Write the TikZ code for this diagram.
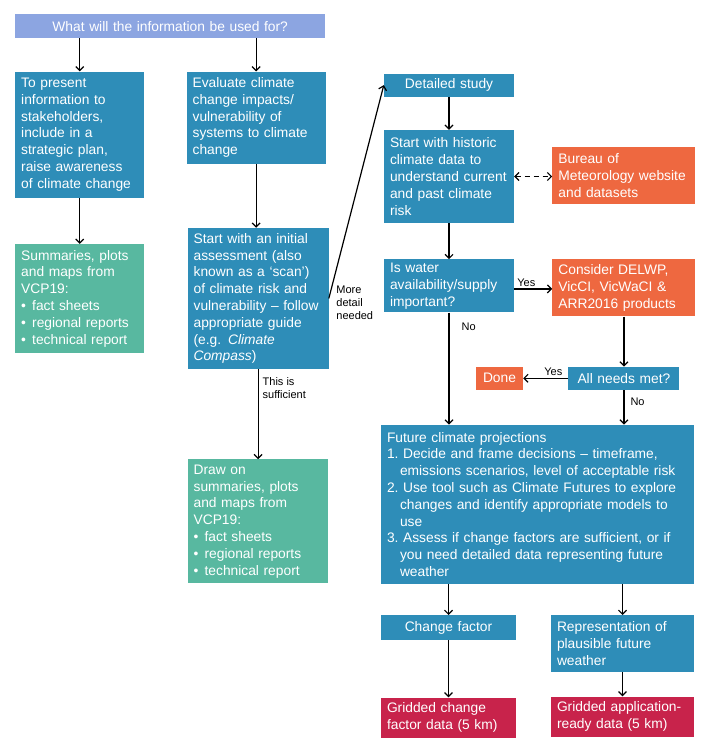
\documentclass[tikz,border=0pt]{standalone}
\usepackage{fontspec}
\setmainfont{Liberation Sans}
\usetikzlibrary{positioning, arrows.meta}

\definecolor{topblue}{RGB}{140,165,225}
\definecolor{vblue}{RGB}{46,141,184}
\definecolor{vgreen}{RGB}{88,184,160}
\definecolor{vorange}{RGB}{238,104,64}
\definecolor{vred}{RGB}{200,35,75}

\hyphenpenalty=10000
\exhyphenpenalty=10000
\newcommand{\bul}{\makebox[11pt][l]{\textbullet}}

\begin{document}
\begin{tikzpicture}[x=1pt, y=-1pt,
            block/.style={rectangle, fill=vblue, text=white, align=left, anchor=north west, inner xsep=6pt, inner ysep=2pt, font=\fontsize{13.8}{16.8}\selectfont},
            summary/.style={block, fill=vgreen},
            source/.style={block, fill=vorange},
            product/.style={block, fill=vred},
            arrow/.style={-{Straight Barb[length=4pt, width=8pt]}, line width=1.2pt},
            link/.style={arrow, {Straight Barb[length=4pt, width=8pt]}-{Straight Barb[length=4pt, width=8pt]}, dash pattern=on 5pt off 4pt},
            lbl/.style={font=\fontsize{11}{13}\selectfont, align=left, inner sep=1pt}]

        \useasboundingbox (0,0) rectangle (709,746);

        \node[block, fill=topblue, align=center, text width=298pt, minimum height=24pt] (top) at (15,14) {What will the information be used for?};

        % left branch
        \node[block, text width=117pt, minimum height=126pt, below=33pt of top.south west, anchor=north west] (present) {To present\\information to\\stakeholders,\\include in a\\strategic plan,\\raise awareness\\of climate change};
        \node[summary, text width=117pt, minimum height=109pt, below=46pt of present.south west, anchor=north west] (sumleft) {Summaries, plots\\and maps from\\VCP19:\\\bul fact sheets\\\bul regional reports\\\bul technical report};

        % middle branch
        \node[block, text width=127pt, minimum height=92pt, right=42pt of present.north east, anchor=north west] (evaluate) {Evaluate climate\\change impacts/\\vulnerability of\\systems to climate\\change};
        \node[block, text width=129pt, minimum height=141pt, below=64pt of evaluate.south west, anchor=north west, xshift=1pt] (scan) {Start with an initial\\assessment (also\\known as a `scan')\\of climate risk and\\vulnerability -- follow\\appropriate guide\\(e.g. \textit{Climate}\\\textit{Compass})};
        \node[summary, text width=128pt, minimum height=124pt, below=90pt of scan.south west, anchor=north west] (sumright) {Draw on\\summaries, plots\\and maps from\\VCP19:\\\bul fact sheets\\\bul regional reports\\\bul technical report};

        % detailed study
        \node[block, align=center, text width=118pt, minimum height=23pt, right=58pt of evaluate.north east, anchor=north west, yshift=-2pt] (detail) {Detailed study};
        \node[block, text width=118pt, minimum height=93pt, below=33pt of detail.south west, anchor=north west] (historic) {Start with historic\\climate data to\\understand current\\and past climate\\risk};
        \node[source, text width=131pt, minimum height=57pt, right=38pt of historic.north east, anchor=north west, yshift=-17pt] (bom) {Bureau of\\Meteorology website\\and datasets};
        \node[block, text width=118pt, minimum height=53pt, below=36pt of historic.south west, anchor=north west] (water) {Is water\\availability/supply\\important?};
        \node[source, text width=131pt, minimum height=57pt, right=38pt of water.north east, anchor=north west] (delwp) {Consider DELWP,\\VicCI, VicWaCI \&\\ARR2016 products};
        \node[block, align=center, text width=99pt, minimum height=23pt, below=50pt of delwp.south, anchor=north] (needs) {All needs met?};
        \node[source, align=center, inner xsep=4pt, text width=39pt, minimum height=23pt, left=45pt of needs.west, anchor=east] (done) {Done};

        % projections
        \node[block, text width=301pt, minimum height=159pt, below=112pt of water.south west, anchor=north west, xshift=-3pt] (future) {Future climate projections\\
            1.~Decide and frame decisions -- timeframe,\\
            \hspace*{13pt}emissions scenarios, level of acceptable risk\\
            2.~Use tool such as Climate Futures to explore\\
            \hspace*{13pt}changes and identify appropriate models to\\
            \hspace*{13pt}use\\
            3.~Assess if change factors are sufficient, or if\\
            \hspace*{13pt}you need detailed data representing future\\
            \hspace*{13pt}weather};
        \node[block, align=center, text width=123pt, minimum height=25pt, below=31pt of future.south west, anchor=north west] (cfactor) {Change factor};
        \node[block, text width=131pt, minimum height=57pt, below=31pt of future.south east, anchor=north east] (repr) {Representation of\\plausible future\\weather};
        \node[product, text width=123pt, minimum height=40pt, below=57pt of cfactor.south west, anchor=north west] (gchange) {Gridded change\\factor data (5 km)};
        \node[product, text width=131pt, minimum height=40pt, below=24pt of repr.south west, anchor=north west] (gapp) {Gridded application-\\ready data (5 km)};

        \draw[arrow] (top.south -| present.north) -- (present.north);
        \draw[arrow] (top.south -| evaluate.north) -- (evaluate.north);
        \draw[arrow] (present) -- (sumleft);
        \draw[arrow] (evaluate.south) -- (evaluate.south |- scan.north);
        \draw[arrow] (scan.south) -- node[lbl, pos=0.21, anchor=west, xshift=3pt]{This is\\sufficient} (scan.south |- sumright.north);
        \draw[arrow] (scan.east) -- node[lbl, pos=0, anchor=west, xshift=6pt, yshift=-4pt]{More\\detail\\needed} (detail.west);
        \draw[arrow] (detail) -- (historic);
        \draw[link] (historic.east) -- (historic.east -| bom.west);
        \draw[arrow] (historic) -- (water);
        \draw[arrow] ([yshift=-3pt]water.east) -- node[lbl, pos=0.32, anchor=south, yshift=1pt]{Yes} ([yshift=-3pt]water.east -| delwp.west);
        \draw[arrow] (water.south) -- node[lbl, pos=0.125, anchor=west, xshift=11pt]{No} (water.south |- future.north);
        \draw[arrow] (delwp.south) -- (needs.north);
        \draw[arrow] (needs.west) -- node[lbl, pos=0.33, anchor=south, yshift=1pt]{Yes} (done.east);
        \draw[arrow] (needs.south) -- node[lbl, pos=0.34, anchor=west, xshift=5pt]{No} (needs.south |- future.north);
        \draw[arrow] (future.south -| cfactor.north) -- (cfactor.north);
        \draw[arrow] (future.south -| repr.north) -- (repr.north);
        \draw[arrow] (cfactor) -- (gchange);
        \draw[arrow] (repr) -- (gapp);
    \end{tikzpicture}
\end{document}
